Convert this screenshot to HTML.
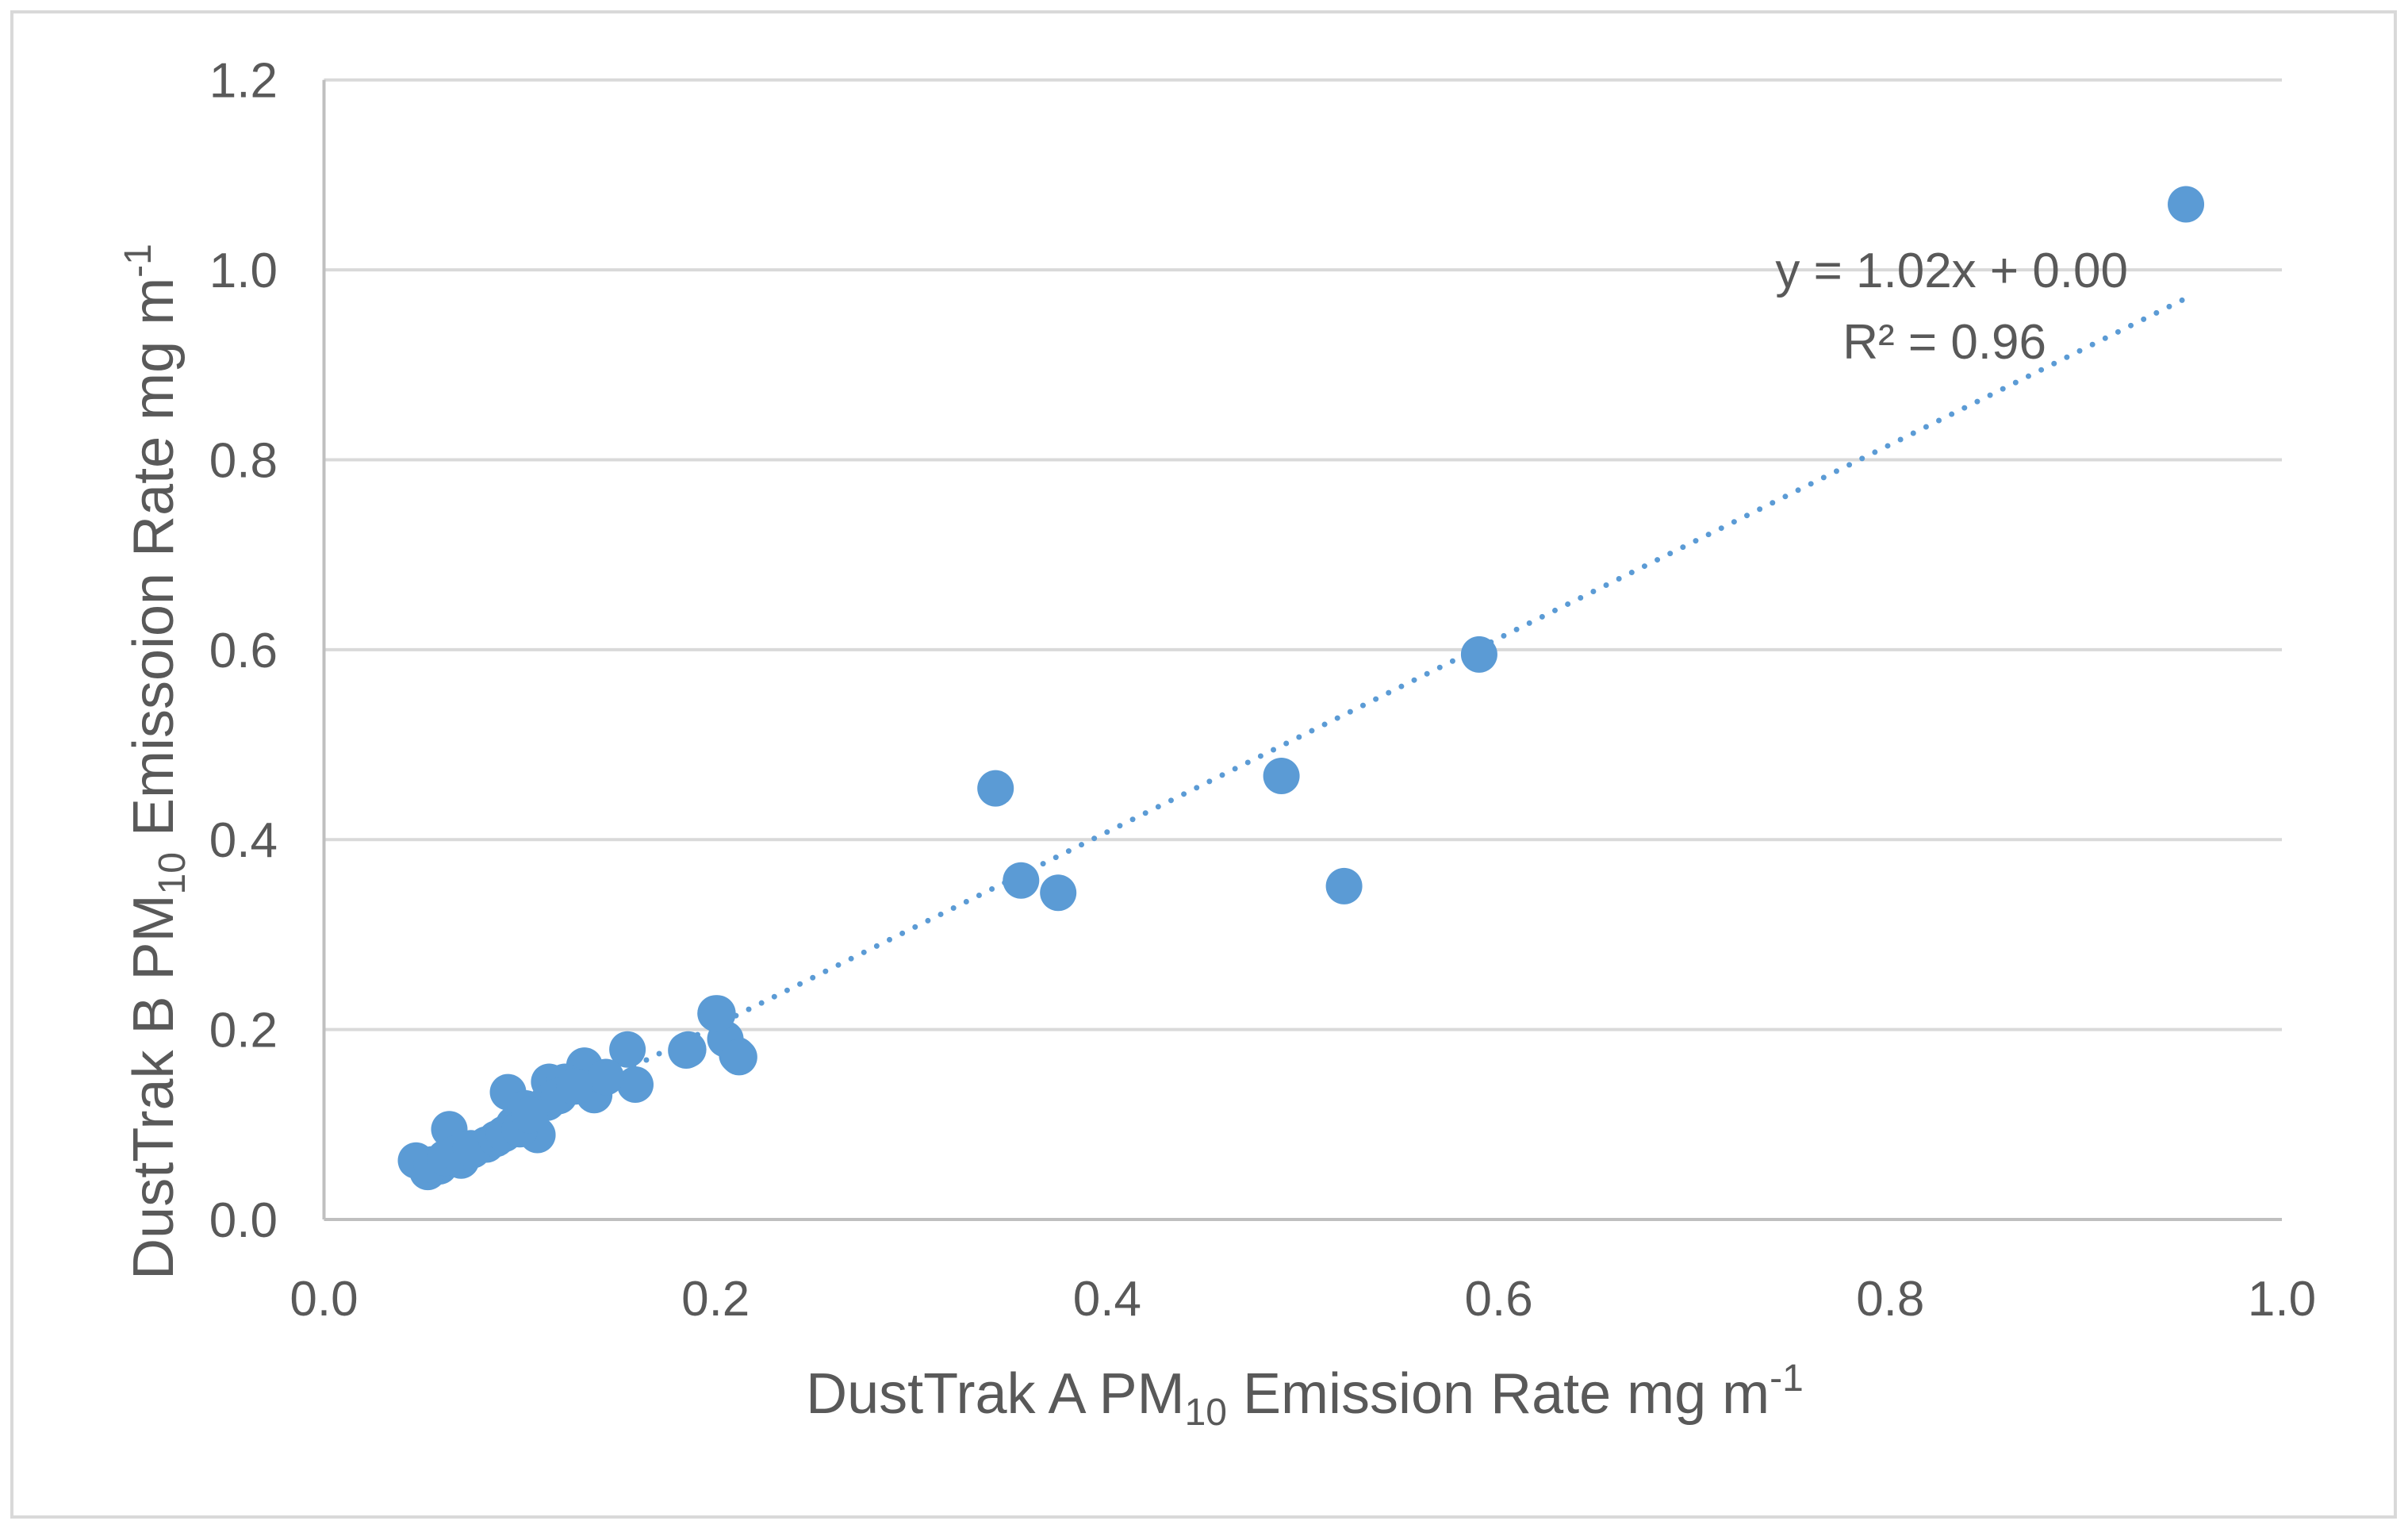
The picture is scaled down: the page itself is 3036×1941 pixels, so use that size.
<!DOCTYPE html>
<html><head><meta charset="utf-8"><style>
html,body{margin:0;padding:0;background:#fff;}
svg text{font-family:"Liberation Sans",sans-serif;fill:#595959;}
</style></head><body>
<svg id="chart" width="3036" height="1936" viewBox="0 0 3036 1936" xmlns="http://www.w3.org/2000/svg">
<rect x="15" y="15" width="3005" height="1897" fill="#fff" stroke="#d9d9d9" stroke-width="4"/>
<g id="grid"></g>
<g id="axes"></g>
<g id="trend"></g>
<g id="pts"></g>
<text x="2683" y="362" font-size="62" text-anchor="end">y = 1.02x + 0.00</text>
<text x="2580" y="452" font-size="62" text-anchor="end">R² = 0.96</text>
<text x="1645" y="1781" font-size="72" text-anchor="middle">DustTrak A PM<tspan font-size="48" dy="15">10</tspan><tspan dy="-15"> Emission Rate mg m</tspan><tspan font-size="48" dy="-28">-1</tspan></text>
<text transform="translate(218,960) rotate(-90)" font-size="72" text-anchor="middle">DustTrak B PM<tspan font-size="48" dy="15">10</tspan><tspan dy="-15"> Emissoion Rate  mg m</tspan><tspan font-size="48" dy="-28">-1</tspan></text>
</svg>
<script>
const xValues=[0.951,0.590,0.489,0.521,0.343,0.356,0.375,0.200,0.185,0.211,0.205,0.201,0.212,0.186,0.155,0.159,0.138,0.133,0.115,0.109,0.094,0.114,0.064,0.083,0.070,0.053,0.047,0.097,0.076,0.059,0.103,0.123,0.144,0.055,0.062,0.068,0.075,0.088,0.092,0.100,0.105,0.120,0.128];
const yValues=[1.069,0.595,0.467,0.351,0.454,0.357,0.344,0.217,0.178,0.173,0.190,0.217,0.171,0.179,0.179,0.142,0.131,0.162,0.145,0.089,0.134,0.123,0.095,0.079,0.062,0.050,0.062,0.100,0.073,0.056,0.117,0.145,0.150,0.058,0.065,0.070,0.075,0.085,0.090,0.095,0.110,0.130,0.140];
const xTicks=[0,0.2,0.4,0.6,0.8,1.0];
const yTicks=[0,0.2,0.4,0.6,0.8,1.0,1.2];
const trendSlope=[1.02];
const trendIntercept=[0.00];
const NS="http://www.w3.org/2000/svg";
const X0=408.5,X1=2877,Y0=1537,Y1=100.7;
function sx(v){return X0+(X1-X0)*v/1.0;}
function sy(v){return Y0-(Y0-Y1)*v/1.2;}
function mk(tag,attrs,parent){const e=document.createElementNS(NS,tag);for(const k in attrs)e.setAttribute(k,attrs[k]);parent.appendChild(e);return e;}
const grid=document.getElementById('grid'),axes=document.getElementById('axes'),trend=document.getElementById('trend'),pts=document.getElementById('pts');
yTicks.forEach(t=>{
  if(t>0){const l=mk('line',{x1:X0,x2:X1,y1:sy(t),y2:sy(t),stroke:'#d9d9d9','stroke-width':4},grid);
  
  }
  const tx=mk('text',{x:350,y:sy(t)+22,'font-size':62,'text-anchor':'end'},axes);
  tx.textContent=t.toFixed(1);
  
  
});
xTicks.forEach(t=>{
  const tx=mk('text',{x:sx(t),y:1658,'font-size':62,'text-anchor':'middle'},axes);
  tx.textContent=t.toFixed(1);
  
  
});
const ya=mk('line',{x1:X0,x2:X0,y1:Y1,y2:Y0,stroke:'#bfbfbf','stroke-width':4},axes);


const xa=mk('line',{x1:X0,x2:X1,y1:Y0,y2:Y0,stroke:'#bfbfbf','stroke-width':4},axes);


const xmin=Math.min(...xValues),xmax=Math.max(...xValues);
const tl=mk('line',{x1:sx(xmin),y1:sy(trendSlope[0]*xmin+trendIntercept[0]),x2:sx(xmax),y2:sy(trendSlope[0]*xmax+trendIntercept[0]),stroke:'#5b9bd5','stroke-width':7,'stroke-dasharray':'0 18','stroke-linecap':'round'},trend);


xValues.forEach((v,i)=>{
  const c=mk('circle',{cx:sx(v),cy:sy(yValues[i]),r:23,fill:'#5b9bd5'},pts);
  
  
});
</script>
</body></html>
